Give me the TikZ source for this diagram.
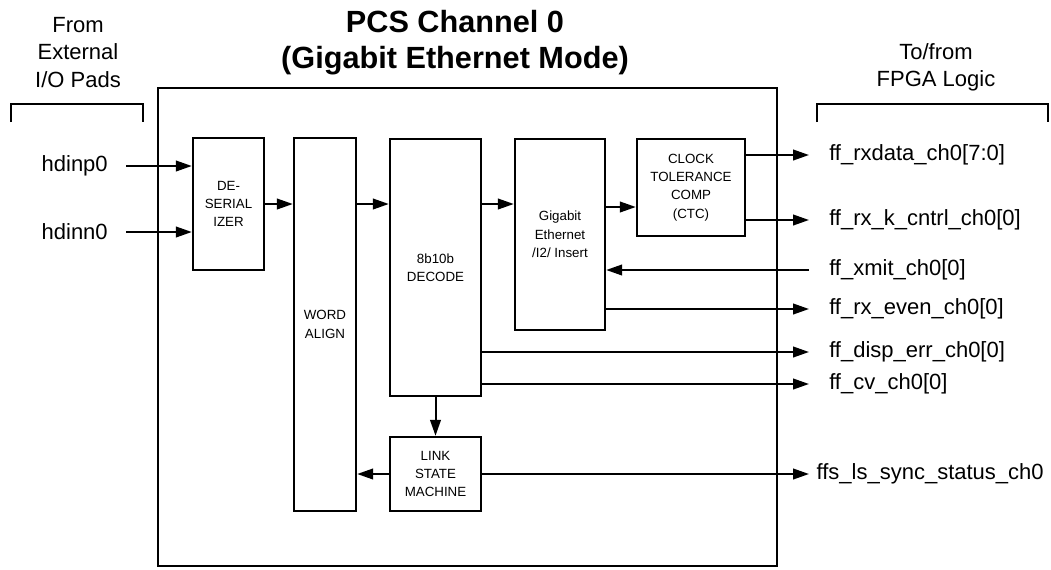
\documentclass[tikz,border=0pt]{standalone}
\usepackage{fontspec}
\setmainfont{Liberation Sans}
\usetikzlibrary{arrows.meta}
\begin{document}
\begin{tikzpicture}[x=0.75pt,y=-0.75pt,
    blk/.style={draw,line width=1.8pt,inner sep=0pt,align=center,
      font=\fontsize{10}{13.75}\selectfont},
    sig/.style={anchor=west,inner xsep=15pt,inner ysep=0pt,
      font=\fontsize{16.5}{20}\selectfont},
    pin/.style={anchor=east,inner xsep=13.5pt,inner ysep=0pt,
      font=\fontsize{16.5}{20}\selectfont},
    pad/.style={align=center,font=\fontsize{16.5}{20.6}\selectfont}]
  \useasboundingbox (0,0) rectangle (1051,569);
  % channel frame and headings
  \draw
    (467.5,327) node[blk,minimum width=464.25pt,minimum height=358.5pt] (pcs){}
    (455,43) node[align=center,font=\bfseries\fontsize{23}{27}\selectfont] (title){PCS Channel 0\\(Gigabit Ethernet Mode)}
    (78,52.5) node[pad] (ext){From\\External\\I/O Pads}
    (936,67) node[pad,font=\fontsize{16.5}{20.25}\selectfont] (fpga){To/from\\FPGA Logic};
  \draw[line width=1.5pt] (11,122) |- (143,104) -- (143,122);
  \draw[line width=1.5pt] (817,122) |- (1048,104) -- (1048,122);
  % blocks
  \draw
    (228.5,204) node[blk,minimum width=53.25pt,minimum height=99pt] (deser){DE-\\SERIAL\\IZER}
    (325,324.5) node[blk,minimum width=46.5pt,minimum height=279.75pt] (align){WORD\\ALIGN}
    (435.5,267.5) node[blk,minimum width=68.25pt,minimum height=192.75pt] (decode){8b10b\\DECODE}
    (560,234.5) node[blk,minimum width=67.5pt,minimum height=143.25pt] (gige){Gigabit\\Ethernet\\/I2/ Insert}
    (691,187.5) node[blk,minimum width=81pt,minimum height=72.75pt] (ctc){CLOCK\\TOLERANCE\\COMP\\(CTC)}
    (435.5,474) node[blk,minimum width=68.25pt,minimum height=55.5pt] (lsm){LINK\\STATE\\MACHINE};
  % pins
  \node[pin] (inp) at (126,166) {hdinp0};
  \node[pin] (inn) at (126,232) {hdinn0};
  \node[sig] (rxd) at (809,155) {ff\_rxdata\_ch0[7:0]};
  \node[sig] (rxk) at (809,220) {ff\_rx\_k\_cntrl\_ch0[0]};
  \node[sig] (xmit) at (809,270) {ff\_xmit\_ch0[0]};
  \node[sig] (even) at (809,309) {ff\_rx\_even\_ch0[0]};
  \node[sig] (disp) at (809,352) {ff\_disp\_err\_ch0[0]};
  \node[sig] (cv) at (809,384) {ff\_cv\_ch0[0]};
  \node[sig,inner xsep=5.5pt] (ls) at (809,474) {ffs\_ls\_sync\_status\_ch0};
  \coordinate (y207) at (0,207);
  \begin{scope}[line width=1.5pt,-{Triangle[length=12pt,width=8pt]}]
    \draw (inp.east) to (inp.east -| deser.west);
    \draw (inn.east) to (inn.east -| deser.west);
    \draw (deser.east) to (deser.east -| align.west);
    \draw (align.east |- deser.east) to (decode.west |- deser.east);
    \draw (decode.east |- deser.east) to (gige.west |- deser.east);
    \draw (gige.east |- y207) to (ctc.west |- y207);
    \draw (ctc.east |- rxd.west) to (rxd.west);
    \draw (ctc.east |- rxk.west) to (rxk.west);
    \draw (xmit.west) to (gige.east |- xmit.west);
    \draw (gige.east |- even.west) to (even.west);
    \draw (decode.east |- disp.west) to (disp.west);
    \draw (decode.east |- cv.west) to (cv.west);
    \draw (decode.south) to (lsm.north);
    \draw (lsm.west) to (lsm.west -| align.east);
    \draw (lsm.east) to (ls.west);
  \end{scope}
\end{tikzpicture}
\end{document}
